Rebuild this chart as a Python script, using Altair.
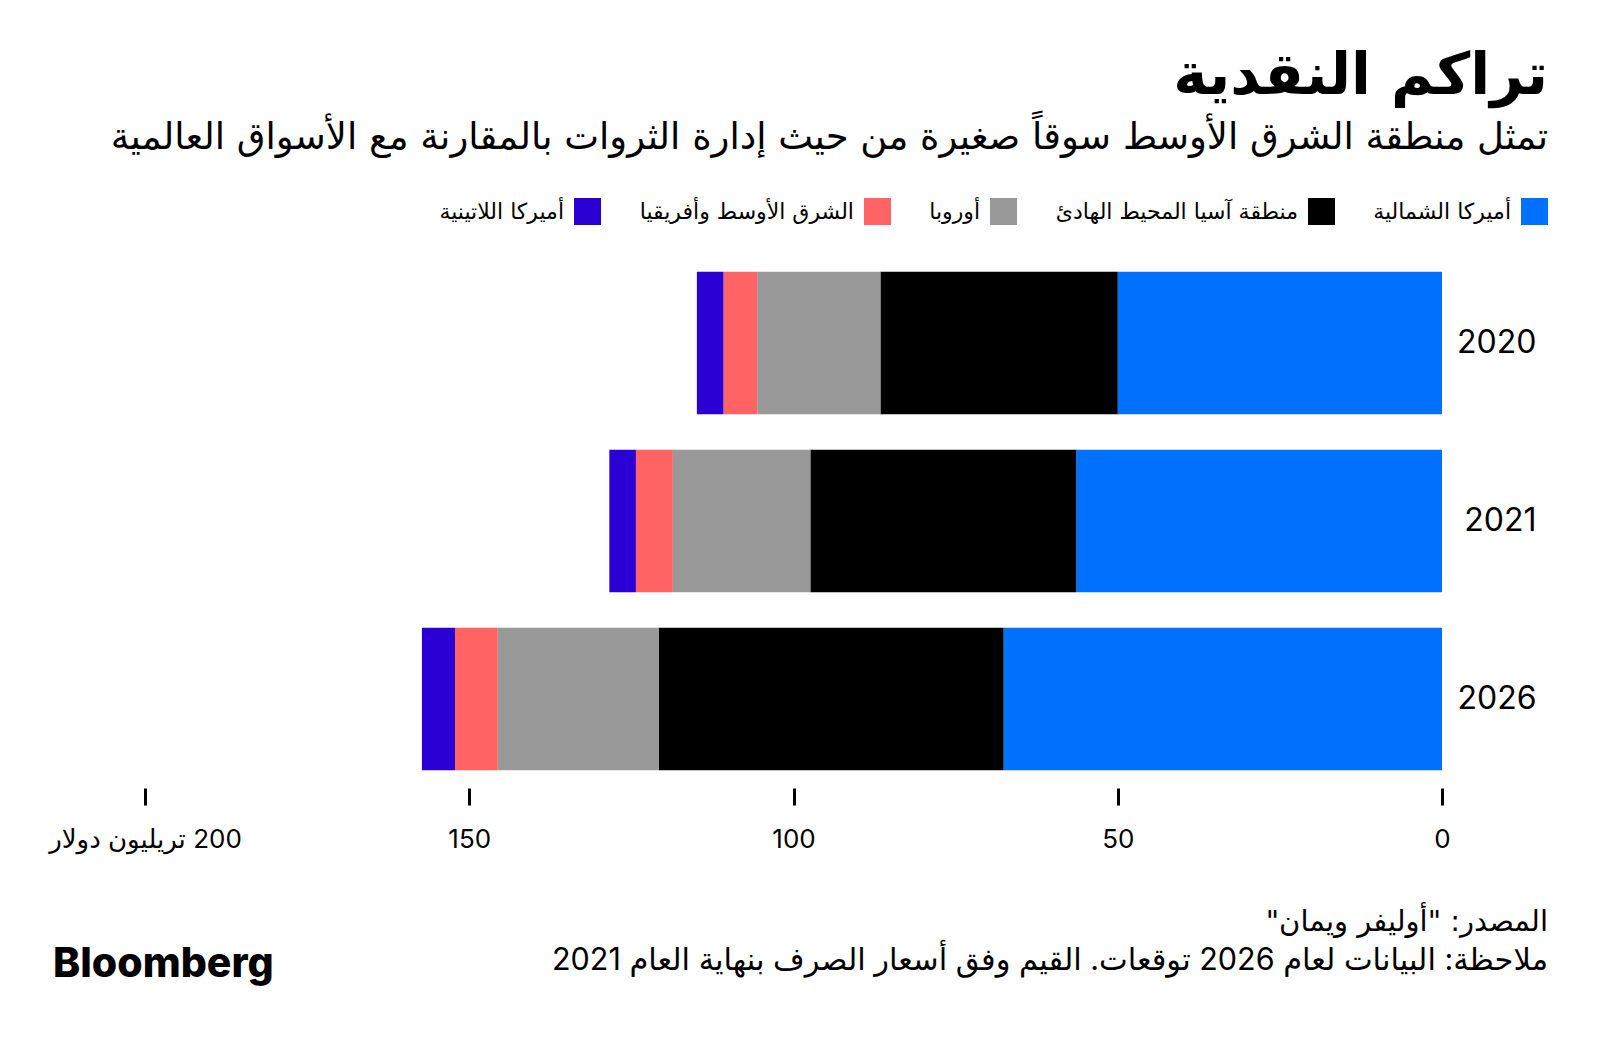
import altair as alt
import pandas as pd

# ---- data ----
years = ["2020", "2021", "2026"]
regions = [
    "أميركا الشمالية",
    "منطقة آسيا المحيط الهادئ",
    "أوروبا",
    "الشرق الأوسط وأفريقيا",
    "أميركا اللاتينية",
]
colors = ["#0070ff", "#000000", "#999999", "#ff6363", "#2a00d5"]
north_america = [50.0, 56.4, 67.6]
asia_pacific = [36.6, 41.0, 53.2]
europe = [19.0, 21.2, 24.8]
middle_east_africa = [5.2, 5.7, 6.6]
latin_america = [4.1, 4.1, 5.1]
x_ticks = [0, 50, 100, 150, 200]

RLE, PDF = "\u202B", "\u202C"
title_text = "تراكم النقدية"
subtitle_text = "تمثل منطقة الشرق الأوسط سوقاً صغيرة من حيث إدارة الثروات بالمقارنة مع الأسواق العالمية"
source_text = 'المصدر: "أوليفر ويمان"'
note_text = "ملاحظة: البيانات لعام 2026 توقعات. القيم وفق أسعار الصرف بنهاية العام 2021"
unit_text = "تريليون دولار"
brand_text = "Bloomberg"

AR = "DejaVu Sans"
NUM = "Inter, DejaVu Sans"

series = [north_america, asia_pacific, europe, middle_east_africa, latin_america]
rows = []
for rank, (reg, vals) in enumerate(zip(regions, series)):
    for yr, v in zip(years, vals):
        rows.append({"year": yr, "region": reg, "value": v, "rank": rank})
df = pd.DataFrame(rows)

W, H = 1297, 534

bars = alt.Chart(df).mark_bar().encode(
    x=alt.X(
        "value:Q",
        stack="zero",
        scale=alt.Scale(domain=[0, 200], reverse=True, nice=False),
        axis=alt.Axis(
            values=x_ticks,
            title=None,
            domain=False,
            grid=False,
            tickSize=17,
            tickWidth=3,
            tickColor="black",
            offset=0,
            labelFontSize=26,
            labelFont=NUM,
            labelColor="black",
            labelPadding=21,
            labelFlush=False,
            labelLimit=500,
            labelExpr=f"datum.value == 200 ? '{RLE}200 {unit_text}{PDF}' : datum.label",
        ),
    ),
    y=alt.Y(
        "year:N",
        sort=years,
        scale=alt.Scale(paddingInner=0.2, paddingOuter=0.1),
        axis=alt.Axis(
            orient="right",
            title=None,
            domain=False,
            ticks=False,
            tickSize=0,
            labelFontSize=32,
            labelFont=NUM,
            labelColor="black",
            labelAlign="right",
            labelPadding=94,
        ),
    ),
    color=alt.Color(
        "region:N",
        scale=alt.Scale(domain=regions[::-1], range=colors[::-1]),
        legend=alt.Legend(
            title=None,
            orient="none",
            legendX=429,
            legendY=-56,
            direction="horizontal",
            symbolType="square",
            symbolSize=729,
            symbolStrokeWidth=0,
            symbolOpacity=1,
            labelFontSize=22,
            labelFont=AR,
            labelColor="black",
            labelAlign="right",
            labelOffset={"expr": "-37"},
            labelLimit=400,
            columnPadding=38,
        ),
    ),
    order=alt.Order("rank:Q", sort="ascending"),
)

source = alt.Chart(pd.DataFrame({"t": [RLE + source_text + PDF]})).mark_text(
    align="right", baseline="middle", fontSize=29, font=AR, color="black"
).encode(text="t:N", x=alt.value(W + 106), y=alt.value(668))

note = alt.Chart(pd.DataFrame({"t": [RLE + note_text + PDF]})).mark_text(
    align="right", baseline="middle", fontSize=30.5, font=NUM, color="black"
).encode(text="t:N", x=alt.value(W + 106), y=alt.value(707))

brand = alt.Chart(pd.DataFrame({"t": [brand_text]})).mark_text(
    align="left", baseline="middle", fontSize=41, font="Inter", fontWeight=800, color="black"
).encode(text="t:N", x=alt.value(-92), y=alt.value(711))

chart = alt.layer(bars, source, note, brand).properties(
    width=W,
    height=H,
    background="white",
    autosize=alt.AutoSizeParams(type="none"),
    padding={"left": 145, "top": 254, "right": 158, "bottom": 254},
    title=alt.TitleParams(
        text=title_text,
        subtitle=subtitle_text,
        anchor="end",
        frame="group",
        orient="top",
        dx=106,
        offset=42,
        font=AR,
        fontSize=58,
        fontWeight="bold",
        color="black",
        subtitleFont=AR,
        subtitleFontSize=37,
        subtitleColor="black",
        subtitlePadding=14,
    ),
).configure_view(stroke=None)

chart.save("out.html", embed_options={"renderer": "svg", "actions": False})
